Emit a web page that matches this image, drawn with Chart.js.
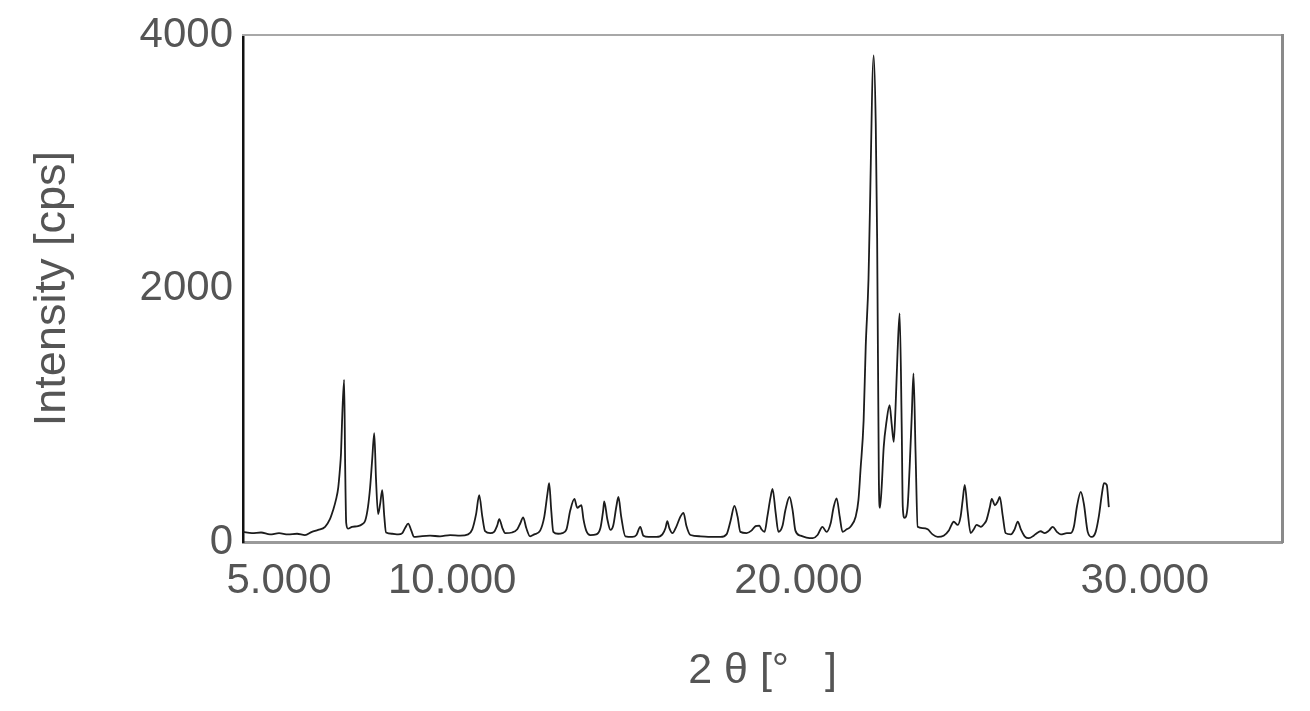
<!DOCTYPE html>
<html>
<head>
<meta charset="utf-8">
<script src="https://cdn.jsdelivr.net/npm/chart.js@4.4.1/dist/chart.umd.min.js"></script>
<style>
  html, body { margin: 0; padding: 0; background: #fff; }
  #wrap { width: 1310px; height: 711px; }
</style>
</head>
<body>
<div id="wrap"><canvas id="xrdChart" width="1310" height="711"></canvas></div>
<script>
// XRD pattern, values
const twoTheta = [
  5.00, 5.26, 5.52, 5.78, 6.04, 6.30, 6.56, 6.79, 6.99, 7.17, 7.37, 7.51, 7.60, 7.69, 7.75, 7.80, 7.83, 7.86, 7.92, 7.95,
  7.98, 8.03, 8.15, 8.32, 8.44, 8.53, 8.61, 8.67, 8.73, 8.79, 8.84, 8.90, 8.96, 9.02, 9.08, 9.13, 9.31, 9.48, 9.60, 9.68,
  9.77, 9.86, 9.94, 10.12, 10.40, 10.69, 10.98, 11.27, 11.50, 11.62, 11.73, 11.82, 11.91, 11.99, 12.14, 12.25, 12.34, 12.40, 12.49, 12.57,
  12.77, 12.92, 13.01, 13.09, 13.18, 13.29, 13.41, 13.58, 13.70, 13.79, 13.84, 13.90, 13.96, 14.10, 14.22, 14.34, 14.45, 14.57, 14.65, 14.77,
  14.83, 14.91, 15.03, 15.20, 15.32, 15.40, 15.43, 15.52, 15.61, 15.69, 15.78, 15.84, 15.92, 16.04, 16.24, 16.36, 16.47, 16.56, 16.71, 16.94,
  17.11, 17.20, 17.25, 17.31, 17.40, 17.51, 17.63, 17.72, 17.80, 17.92, 18.21, 18.50, 18.79, 18.96, 19.08, 19.19, 19.28, 19.36, 19.54, 19.68,
  19.80, 19.91, 19.97, 20.06, 20.14, 20.23, 20.29, 20.38, 20.46, 20.58, 20.66, 20.78, 20.87, 20.95, 21.10, 21.27, 21.45, 21.59, 21.73, 21.85,
  21.97, 22.05, 22.14, 22.23, 22.31, 22.43, 22.54, 22.69, 22.77, 22.83, 22.92, 22.98, 23.06, 23.09, 23.21, 23.27, 23.31, 23.36, 23.39, 23.44,
  23.50, 23.58, 23.67, 23.73, 23.79, 23.84, 23.90, 23.96, 24.02, 24.05, 24.10, 24.19, 24.25, 24.31, 24.36, 24.42, 24.48, 24.62, 24.77, 24.91,
  25.06, 25.23, 25.38, 25.43, 25.52, 25.64, 25.72, 25.78, 25.84, 25.92, 26.01, 26.10, 26.18, 26.30, 26.42, 26.47, 26.56, 26.62, 26.71, 26.79,
  26.85, 26.94, 27.02, 27.17, 27.28, 27.37, 27.46, 27.57, 27.69, 27.83, 27.92, 28.03, 28.15, 28.27, 28.38, 28.50, 28.61, 28.79, 28.90, 28.99,
  29.08, 29.19, 29.28, 29.39, 29.51, 29.62, 29.71, 29.80, 29.86, 29.94, 30.00
];
const intensity = [
  80, 70, 75, 60, 70, 60, 65, 55, 80, 95, 120, 180, 250, 340, 430, 580, 700, 950, 1280, 600,
  150, 105, 120, 125, 140, 170, 280, 430, 650, 860, 500, 220, 300, 410, 200, 75, 65, 60, 70, 110,
  145, 90, 40, 45, 50, 45, 55, 50, 60, 100, 220, 370, 200, 85, 70, 80, 130, 180, 110, 70,
  75, 100, 150, 195, 110, 45, 60, 90, 200, 380, 465, 250, 80, 65, 70, 100, 250, 340, 270, 290,
  180, 90, 55, 60, 110, 250, 320, 180, 95, 130, 280, 355, 200, 45, 40, 55, 120, 50, 40, 40,
  60, 110, 165, 110, 70, 120, 200, 230, 130, 55, 45, 40, 40, 60, 170, 285, 200, 80, 70, 90,
  125, 130, 100, 80, 200, 350, 420, 230, 80, 130, 250, 355, 250, 90, 50, 35, 30, 55, 120, 80,
  150, 270, 345, 200, 80, 100, 120, 200, 330, 570, 960, 1540, 2070, 2460, 3840, 3300, 2400, 490, 270, 430,
  750, 950, 1080, 930, 790, 1050, 1500, 1805, 900, 280, 190, 280, 600, 1000, 1330, 700, 120, 110, 100, 60,
  40, 50, 90, 120, 160, 135, 200, 330, 450, 250, 70, 100, 135, 120, 150, 175, 270, 340, 290, 320,
  355, 200, 70, 60, 100, 160, 100, 45, 30, 50, 70, 85, 70, 90, 120, 80, 60, 70, 70, 120,
  280, 395, 300, 80, 40, 80, 200, 380, 465, 450, 275
];

const xTickValues = [5, 10, 20, 30];
const xTickLabels = ['5.000', '10.000', '20.000', '30.000'];
const yTickValues = [0, 2000, 4000];
const yTickLabels = ['0', '2000', '4000'];

const labelColor = '#555555';
const fontFamily = '"Liberation Sans", Arial, sans-serif';

const points = twoTheta.map((t, i) => ({ x: t, y: intensity[i] }));

new Chart(document.getElementById('xrdChart'), {
  type: 'line',
  data: {
    datasets: [{
      data: points,
      borderColor: '#1c1c1c',
      borderWidth: 1.8,
      pointRadius: 0,
      cubicInterpolationMode: 'monotone',
      fill: false
    }]
  },
  options: {
    responsive: false,
    animation: false,
    devicePixelRatio: 1,
    layout: { padding: { top: 35, right: 28, bottom: 0, left: 0 } },
    plugins: {
      legend: { display: false },
      tooltip: { enabled: false }
    },
    scales: {
      x: {
        type: 'linear',
        position: 'bottom',
        min: 5,
        max: 35,
        afterBuildTicks: axis => { axis.ticks = xTickValues.map(v => ({ value: v })); },
        afterFit: axis => { axis.height = 169; },
        grid: { display: false, drawTicks: false },
        border: { color: '#9a9a9a', width: 3 },
        ticks: {
          autoSkip: false,
          maxRotation: 0,
          padding: 14,
          labelOffset: 36,
          color: labelColor,
          font: { family: fontFamily, size: 42 },
          callback: v => xTickLabels[xTickValues.indexOf(v)]
        },
        title: {
          display: true,
          text: '2 θ [°   ]',
          color: labelColor,
          font: { family: fontFamily, size: 43 },
          padding: { top: 0, bottom: 14 }
        }
      },
      y: {
        type: 'linear',
        position: 'left',
        min: 0,
        max: 4000,
        afterFit: axis => { axis.width = 243; },
        grid: { display: false, drawTicks: false },
        border: { color: '#111111', width: 2.5 },
        ticks: {
          stepSize: 1000,
          padding: 10,
          color: labelColor,
          font: { family: fontFamily, size: 42 },
          callback: v => {
            const i = yTickValues.indexOf(v);
            return i >= 0 ? yTickLabels[i] : '';
          }
        },
        title: {
          display: true,
          text: 'Intensity [cps]',
          color: labelColor,
          font: { family: fontFamily, size: 45 },
          padding: { top: 26, bottom: 0 }
        }
      },
      xTop: {
        type: 'linear',
        position: 'top',
        min: 5,
        max: 35,
        afterFit: axis => { axis.height = 0; },
        grid: { display: false, drawTicks: false },
        border: { color: '#a8a8a8', width: 2 },
        ticks: { display: false }
      },
      yRight: {
        type: 'linear',
        position: 'right',
        min: 0,
        max: 4000,
        afterFit: axis => { axis.width = 0; },
        grid: { display: false, drawTicks: false },
        border: { color: '#8a8a8a', width: 3 },
        ticks: { display: false }
      }
    }
  }
});
</script>
</body>
</html>
